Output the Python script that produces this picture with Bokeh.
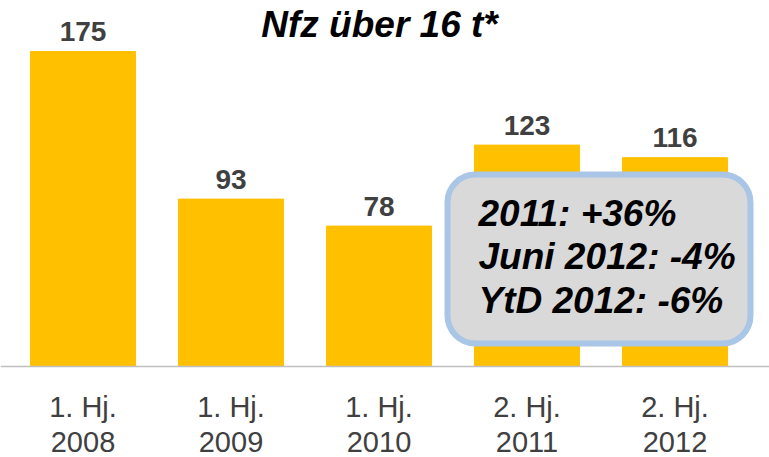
from bokeh.plotting import figure
from bokeh.models import Range1d, Span, BoxAnnotation, Label
from bokeh.core.properties import value
from bokeh.embed import file_html
from bokeh.resources import INLINE

# ---- data ----
periods = ["1. Hj.", "1. Hj.", "1. Hj.", "2. Hj.", "2. Hj."]
years = ["2008", "2009", "2010", "2011", "2012"]
values = [175, 93, 78, 123, 116]
title_text = "Nfz über 16 t*"
box_lines = ["2011: +36%", "Juni 2012: -4%", " YtD 2012: -6%"]

W, H = 769, 457
XPX, YPX = 148.0, 1.8
X0 = -82.5 / XPX             # first bar centre at page x 82.5
Y0 = -91 / YPX               # baseline at page y 366

def dx(px):  # page px -> data x
    return X0 + px / XPX

def dy(py):  # page px -> data y
    return Y0 + (H - py) / YPX

FONT = value("Liberation Sans")
idx = list(range(len(values)))

p = figure(width=W, height=H, output_backend="svg", toolbar_location=None,
           x_range=Range1d(X0, X0 + W / XPX), y_range=Range1d(Y0, Y0 + H / YPX),
           min_border=0, outline_line_color=None, background_fill_color="white")
p.axis.visible = False
p.grid.visible = False

p.vbar(x=idx, top=values, bottom=0, width=0.71, color="#FFC000")
p.add_layout(Span(location=0, dimension="width", line_color="#C0C0C0", line_width=1.5))

p.text(x=idx, y=values, text=[str(v) for v in values], text_align="center",
       text_baseline="alphabetic", y_offset=-20, text_font_size="28px",
       text_font_style="bold", text_color="#404040", text_font=FONT)

p.text(x=idx, y=[0] * len(idx), text=periods, text_align="center",
       text_baseline="alphabetic", y_offset=40, text_font_size="29px",
       text_color="#404040", text_font=FONT)
p.text(x=idx, y=[0] * len(idx), text=years, text_align="center",
       text_baseline="alphabetic", y_offset=75, text_font_size="29px",
       text_color="#404040", text_font=FONT)

p.add_layout(Label(x=dx(379), y=dy(24), text=title_text, text_align="center",
                   text_baseline="alphabetic", text_font_size="37px",
                   text_font_style="bold italic", text_color="black",
                   text_font="Liberation Sans"))

p.add_layout(BoxAnnotation(left=dx(447), right=dx(750), top=dy(174), bottom=dy(343),
                           fill_color="#D9D9D9", fill_alpha=1.0,
                           line_color="#A9C6E6", line_width=6, line_alpha=1.0,
                           border_radius=28, level="overlay"))

for line, py in zip(box_lines, [213, 256, 300]):
    p.add_layout(Label(x=dx(478), y=dy(py), text=line, text_align="left",
                       text_baseline="alphabetic", text_font_size="37px",
                       text_font_style="bold italic", text_color="black",
                       text_font="Liberation Sans", level="overlay"))

open("out.html", "w").write(file_html(p, INLINE))
